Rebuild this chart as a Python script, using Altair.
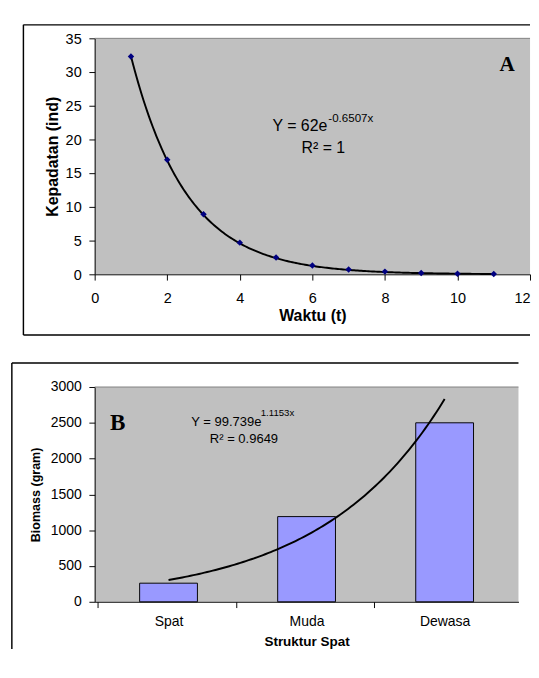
import json
import altair as alt
import pandas as pd

# ---------------- Panel A data ----------------
waktu = [1, 2, 3, 4, 5, 6, 7, 8, 9, 10, 11]
kepadatan = [32.3, 17.0, 8.9, 4.7, 2.5, 1.3, 0.7, 0.4, 0.2, 0.1, 0.05]
a_ticks_x = [0, 2, 4, 6, 8, 10, 12]
a_ticks_y = [0, 5, 10, 15, 20, 25, 30, 35]
A_COEF, A_RATE, A_R2 = 62, -0.6507, "1"

# ---------------- Panel B data ----------------
struktur = ["Spat", "Muda", "Dewasa"]
biomass = [260, 1190, 2500]
b_ticks_y = [0, 500, 1000, 1500, 2000, 2500, 3000]
B_COEF, B_RATE, B_R2 = 99.739, 1.1153, "0.9649"

SANS = "Liberation Sans"
SERIF = "Liberation Serif"

WA, HA = 452, 245
WB, HB = 440, 223


def text_layer(df, size, X, Y, font=SANS, weight="normal", align="left"):
    return alt.Chart(df).mark_text(
        font=font, fontSize=size, fontWeight=weight, align=align,
        baseline="alphabetic", color="black"
    ).encode(x=X, y=Y, text="label:N")


def frame(left, top, right, bottom, draw_bottom=True):
    one = pd.DataFrame({"k": [0]})
    base = alt.Chart(one).mark_rule(color="black", strokeWidth=1.5)
    parts = [
        base.encode(x=alt.value(left), x2=alt.value(right), y=alt.value(top)),
        base.encode(x=alt.value(left), y=alt.value(top), y2=alt.value(bottom)),
    ]
    if draw_bottom:
        parts.append(base.encode(x=alt.value(left), x2=alt.value(right), y=alt.value(bottom)))
    return parts


def plot_top_border(width):
    one = pd.DataFrame({"k": [0]})
    return alt.Chart(one).mark_rule(color="#808080", strokeWidth=1).encode(
        x=alt.value(0), x2=alt.value(width), y=alt.value(0))


# ================= Panel A =================
dfA = pd.DataFrame({"x": waktu, "y": kepadatan})
last_x = a_ticks_x[-1]
XA = alt.X("x:Q", scale=alt.Scale(domain=[0, last_x], nice=False, zero=False),
           axis=alt.Axis(values=a_ticks_x, title="Waktu (t)", labelFlush=False,
                         labelAlign=alt.ExprRef(expr=f"datum.value == {last_x} ? 'right' : 'center'"),
                         labelFontSize=15, labelPadding=11, titleFontSize=16.5,
                         titlePadding=3))
YA = alt.Y("y:Q", scale=alt.Scale(domain=[0, 35], nice=False),
           axis=alt.Axis(values=a_ticks_y, title="Kepadatan (ind)",
                         labelFontSize=15, labelPadding=8, titleFontSize=16.5,
                         titlePadding=5))

trendA = alt.Chart(alt.sequence(1, 11.001, 0.05, as_="x")).transform_calculate(
    y=f"{A_COEF}*exp({A_RATE}*datum.x)"
).mark_line(color="black", strokeWidth=2).encode(x=XA, y=YA)

pointsA = alt.Chart(dfA).mark_point(
    shape="diamond", filled=True, size=45, color="#000080", opacity=1
).encode(x=XA, y=YA)

eqA = text_layer(pd.DataFrame({"x": [4.9], "y": [21.3], "label": [f"Y = {A_COEF}e"]}), 16.5, XA, YA)
expA = text_layer(pd.DataFrame({"x": [6.44], "y": [22.6], "label": [f"{A_RATE}x"]}), 12, XA, YA)
r2A = text_layer(pd.DataFrame({"x": [5.7], "y": [18.0], "label": [f"R² = {A_R2}"]}), 16.5, XA, YA)
tagA = text_layer(pd.DataFrame({"x": [11.37], "y": [30.1], "label": ["A"]}), 22, XA, YA,
                  font=SERIF, weight="bold", align="center")

panelA = alt.layer(
    plot_top_border(WA), trendA, pointsA, eqA, expA, r2A, tagA,
    *frame(-74, -14, WA, 308)
).properties(width=WA, height=HA)

# ================= Panel B =================
dfB = pd.DataFrame({"x": list(range(1, len(struktur) + 1)), "y": biomass})
label_expr = f"{json.dumps(struktur)}[datum.value - 1]"
XB = alt.X("x:Q", scale=alt.Scale(domain=[0.5, len(struktur) + 0.5], nice=False, zero=False),
           axis=alt.Axis(values=list(range(1, len(struktur) + 1)), labelExpr=label_expr,
                         title="Struktur Spat", labelFlush=False,
                         tickOffset=-WB / (2 * len(struktur)),
                         labelOffset=WB / (2 * len(struktur)),
                         labelFontSize=14.5, labelPadding=8, titleFontSize=14,
                         titlePadding=7))
YB = alt.Y("y:Q", scale=alt.Scale(domain=[0, 3000], nice=False),
           axis=alt.Axis(values=b_ticks_y, title="Biomass (gram)", format="d",
                         labelFontSize=14.5, labelPadding=8, titleFontSize=13,
                         titlePadding=8))

barsB = alt.Chart(dfB).mark_bar(
    size=60, orient="vertical", color="#9999ff", stroke="black", strokeWidth=1
).encode(x=XB, y=YB)

trendB = alt.Chart(alt.sequence(1, 3.001, 0.02, as_="x")).transform_calculate(
    y=f"{B_COEF}*exp({B_RATE}*datum.x)"
).mark_line(color="black", strokeWidth=2).encode(x=XB, y=YB)

eqB = text_layer(pd.DataFrame({"x": [1.164], "y": [2462], "label": [f"Y = {B_COEF}e"]}), 13.5, XB, YB)
expB = text_layer(pd.DataFrame({"x": [1.668], "y": [2596], "label": [f"{B_RATE}x"]}), 10, XB, YB)
r2B = text_layer(pd.DataFrame({"x": [1.299], "y": [2220], "label": [f"R² = {B_R2}"]}), 13.5, XB, YB)
tagB = text_layer(pd.DataFrame({"x": [0.632], "y": [2395], "label": ["B"]}), 24, XB, YB,
                  font=SERIF, weight="bold", align="center")

panelB = alt.layer(
    plot_top_border(WB), barsB, trendB, eqB, expB, r2B, tagB,
    *frame(-86, -25, WB, 272, draw_bottom=False)
).properties(width=WB, height=HB)

chart = alt.vconcat(panelA, panelB, spacing=27).properties(
    padding={"left": 3, "top": 4, "right": 0, "bottom": 0},
    background="white",
).configure_view(
    fill="#c0c0c0", strokeWidth=0
).configure_axis(
    grid=False, domainColor="black", tickColor="black", domainWidth=1, tickWidth=1,
    tickSize=6, labelFont=SANS, titleFont=SANS, labelColor="black", titleColor="black",
    titleFontWeight="bold"
)

chart.save("out.html", embed_options={"renderer": "svg", "actions": False})
